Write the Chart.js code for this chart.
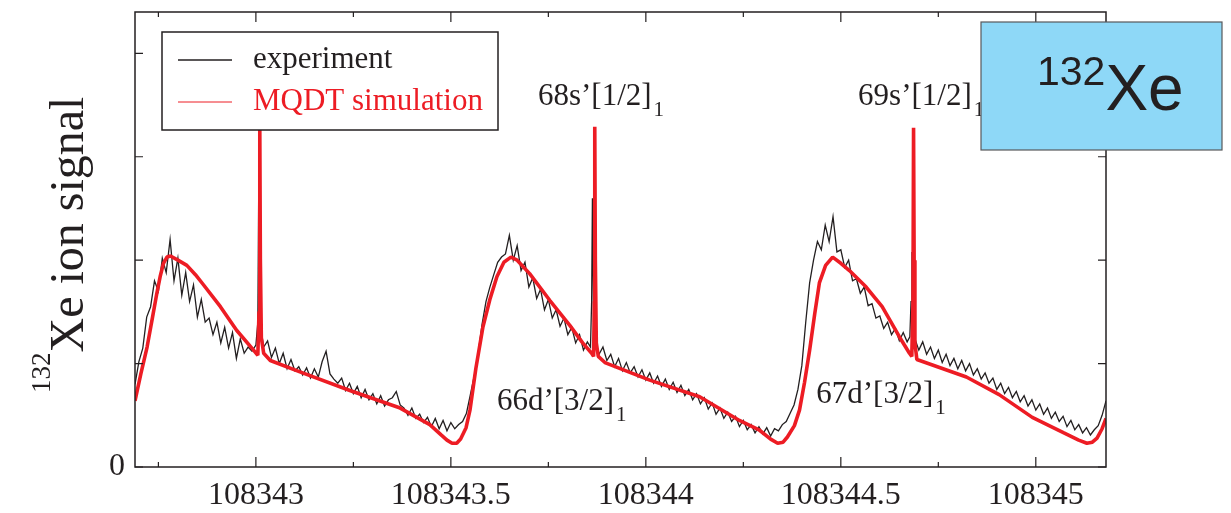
<!DOCTYPE html>
<html>
<head>
<meta charset="utf-8">
<script src="https://cdn.jsdelivr.net/npm/chart.js@4.4.1/dist/chart.umd.min.js"></script>
<style>
  html, body { margin: 0; padding: 0; background: #fff; }
  canvas { display: block; }
</style>
</head>
<body>
<canvas id="xeChart" width="1231" height="513"></canvas>
<script>
// ─── Data (energies in cm-1, signal in arbitrary units) ───────────────
const X_MIN = 108342.69;
const X_MAX = 108345.18;
const Y_MAX = 4.4;

// experiment (black, noisy)
const EXP_X = [
  108342.69, 108342.70, 108342.71, 108342.72, 108342.73, 108342.74, 108342.75, 108342.76, 108342.77, 108342.78,
  108342.79, 108342.80, 108342.81, 108342.82, 108342.83, 108342.84, 108342.85, 108342.86, 108342.87, 108342.88,
  108342.89, 108342.90, 108342.91, 108342.92, 108342.93, 108342.94, 108342.95, 108342.96, 108342.97, 108342.98,
  108342.99, 108343.000, 108343.005, 108343.008, 108343.012, 108343.015,
  108343.02, 108343.03, 108343.04, 108343.05, 108343.06, 108343.07, 108343.08, 108343.09, 108343.10, 108343.11,
  108343.12, 108343.13, 108343.14, 108343.15, 108343.16, 108343.17, 108343.18, 108343.19, 108343.20, 108343.21,
  108343.22, 108343.23, 108343.24, 108343.25, 108343.26, 108343.27, 108343.28, 108343.29, 108343.30, 108343.31,
  108343.32, 108343.33, 108343.34, 108343.35, 108343.36, 108343.37, 108343.38, 108343.39, 108343.40, 108343.41,
  108343.42, 108343.43, 108343.44, 108343.45, 108343.46, 108343.47, 108343.48, 108343.49, 108343.50, 108343.51,
  108343.52, 108343.53, 108343.54, 108343.55, 108343.56, 108343.57, 108343.58, 108343.59, 108343.60, 108343.61,
  108343.62, 108343.63, 108343.64, 108343.65, 108343.66, 108343.67, 108343.68, 108343.69, 108343.70, 108343.71,
  108343.72, 108343.73, 108343.74, 108343.75, 108343.76, 108343.77, 108343.78, 108343.79, 108343.80, 108343.81,
  108343.82, 108343.83, 108343.84, 108343.85, 108343.858, 108343.861, 108343.863, 108343.866, 108343.87,
  108343.88, 108343.89, 108343.90, 108343.91, 108343.92, 108343.93, 108343.94, 108343.95, 108343.96, 108343.97,
  108343.98, 108343.99, 108344.00, 108344.01, 108344.02, 108344.03, 108344.04, 108344.05, 108344.06, 108344.07,
  108344.08, 108344.09, 108344.10, 108344.11, 108344.12, 108344.13, 108344.14, 108344.15, 108344.16, 108344.17,
  108344.18, 108344.19, 108344.20, 108344.21, 108344.22, 108344.23, 108344.24, 108344.25, 108344.26, 108344.27,
  108344.28, 108344.29, 108344.30, 108344.31, 108344.32, 108344.33, 108344.34, 108344.35, 108344.36, 108344.37,
  108344.38, 108344.39, 108344.40, 108344.41, 108344.42, 108344.43, 108344.44, 108344.45, 108344.46, 108344.47,
  108344.48, 108344.49, 108344.50, 108344.51, 108344.52, 108344.53, 108344.54, 108344.55, 108344.56, 108344.57,
  108344.58, 108344.59, 108344.60, 108344.61, 108344.62, 108344.63, 108344.64, 108344.65, 108344.66, 108344.67,
  108344.677, 108344.680, 108344.6825, 108344.685, 108344.69,
  108344.70, 108344.71, 108344.72, 108344.73, 108344.74, 108344.75, 108344.76, 108344.77, 108344.78, 108344.79,
  108344.80, 108344.81, 108344.82, 108344.83, 108344.84, 108344.85, 108344.86, 108344.87, 108344.88, 108344.89,
  108344.90, 108344.91, 108344.92, 108344.93, 108344.94, 108344.95, 108344.96, 108344.97, 108344.98, 108344.99,
  108345.00, 108345.01, 108345.02, 108345.03, 108345.04, 108345.05, 108345.06, 108345.07, 108345.08, 108345.09,
  108345.10, 108345.11, 108345.12, 108345.13, 108345.14, 108345.15, 108345.16, 108345.17, 108345.18
];
const EXP_Y = [
  0.80, 1.02, 1.15, 1.45, 1.55, 1.80, 1.70, 2.02, 1.88, 2.20,
  1.80, 2.02, 1.66, 1.88, 1.60, 1.76, 1.45, 1.62, 1.40, 1.44,
  1.28, 1.40, 1.20, 1.35, 1.15, 1.30, 1.05, 1.24, 1.10, 1.16,
  1.12, 1.18, 1.40, 3.10, 1.45, 1.28,
  1.16, 1.22, 1.06, 1.15, 1.00, 1.10, 0.95, 1.04, 0.93, 0.97,
  0.89, 0.96, 0.86, 0.95, 0.87, 1.02, 1.12, 0.90, 0.85, 0.81,
  0.86, 0.74, 0.81, 0.71, 0.78, 0.67, 0.75, 0.65, 0.71, 0.61,
  0.69, 0.59, 0.65, 0.67, 0.73, 0.60, 0.57, 0.50, 0.57, 0.47,
  0.51, 0.43, 0.48, 0.39, 0.47, 0.37, 0.45, 0.35, 0.43, 0.37,
  0.41, 0.44, 0.52, 0.70, 0.88, 1.10, 1.38, 1.60, 1.74, 1.86,
  1.98, 2.03, 2.06, 2.24, 2.00, 2.14, 1.90, 1.98, 1.74, 1.83,
  1.63, 1.72, 1.52, 1.62, 1.44, 1.52, 1.36, 1.44, 1.28, 1.35,
  1.20, 1.28, 1.13, 1.21, 1.16, 1.60, 2.60, 1.40, 1.22,
  1.09, 1.16, 1.03, 1.09, 0.97, 1.05, 0.93, 1.01, 0.91, 0.97,
  0.87, 0.94, 0.84, 0.91, 0.81, 0.88, 0.78, 0.85, 0.75, 0.82,
  0.72, 0.79, 0.69, 0.75, 0.65, 0.71, 0.61, 0.67, 0.56, 0.62,
  0.51, 0.57, 0.47, 0.53, 0.44, 0.49, 0.39, 0.45, 0.36, 0.41,
  0.33, 0.39, 0.32, 0.38, 0.30, 0.37, 0.35, 0.41, 0.44, 0.52,
  0.60, 0.75, 0.98, 1.40, 1.78, 2.00, 2.18, 2.10, 2.34, 2.18,
  2.42, 2.08, 2.10, 1.93, 2.00, 1.80, 1.82, 1.68, 1.74, 1.56,
  1.58, 1.44, 1.46, 1.34, 1.40, 1.28, 1.34, 1.22, 1.30, 1.21,
  1.26, 1.60, 2.08, 1.40, 1.24,
  1.13, 1.21, 1.09, 1.16, 1.05, 1.13, 1.01, 1.09, 0.98, 1.05,
  0.95, 1.03, 0.93, 1.00, 0.89, 0.95, 0.85, 0.91, 0.81, 0.86,
  0.75, 0.81, 0.71, 0.77, 0.67, 0.73, 0.63, 0.69, 0.59, 0.65,
  0.55, 0.61, 0.51, 0.57, 0.47, 0.53, 0.44, 0.49, 0.39, 0.45,
  0.36, 0.41, 0.33, 0.38, 0.31, 0.36, 0.40, 0.50, 0.64
];

// MQDT simulation (red, smooth with narrow s-resonances)
const SIM_X = [
  108342.690, 108342.705, 108342.721, 108342.735, 108342.746, 108342.755, 108342.763, 108342.772, 108342.781,
  108342.800, 108342.823, 108342.845, 108342.866, 108342.909, 108342.951, 108342.994,
  108343.005, 108343.008, 108343.010, 108343.0115, 108343.014, 108343.020, 108343.037,
  108343.113, 108343.241, 108343.370, 108343.446, 108343.475, 108343.490, 108343.503, 108343.515, 108343.525,
  108343.539, 108343.549, 108343.564, 108343.582, 108343.600, 108343.618, 108343.636, 108343.654, 108343.670,
  108343.702, 108343.754, 108343.805, 108343.838, 108343.861,
  108343.866, 108343.868, 108343.869, 108343.8705, 108343.873, 108343.878, 108343.895,
  108344.010, 108344.138, 108344.240, 108344.290, 108344.320, 108344.338, 108344.352, 108344.363, 108344.381,
  108344.394, 108344.407, 108344.420, 108344.433, 108344.445, 108344.461, 108344.479, 108344.500, 108344.522,
  108344.565, 108344.606, 108344.650, 108344.676,
  108344.682, 108344.685, 108344.6865, 108344.688, 108344.690, 108344.695,
  108344.822, 108344.906, 108344.991, 108345.072, 108345.110, 108345.131, 108345.145, 108345.157, 108345.170,
  108345.180
];
const SIM_Y = [
  0.64, 0.90, 1.16, 1.45, 1.68, 1.85, 1.97, 2.03, 2.04,
  2.00, 1.95, 1.86, 1.76, 1.55, 1.32, 1.13,
  1.08, 1.50, 3.29, 2.00, 1.25, 1.10, 1.03,
  0.92, 0.74, 0.57, 0.41, 0.31, 0.26, 0.23, 0.23, 0.27,
  0.38, 0.55, 0.95, 1.35, 1.62, 1.84, 1.98, 2.03, 2.00,
  1.87, 1.61, 1.37, 1.20, 1.10,
  1.07, 1.60, 3.29, 2.00, 1.20, 1.07, 1.01,
  0.84, 0.68, 0.45, 0.36, 0.27, 0.23, 0.24, 0.29, 0.40,
  0.55, 0.82, 1.13, 1.48, 1.78, 1.95, 2.03, 1.97, 1.90,
  1.74, 1.55, 1.26, 1.10,
  1.07, 1.60, 3.28, 2.00, 1.20, 1.04,
  0.87, 0.70, 0.48, 0.33, 0.26, 0.23, 0.24, 0.28, 0.37,
  0.47
];

const SERIES_NAMES = ['experiment', 'MQDT simulation'];

// state labels: text, subscript, anchor energy, anchor signal, alignment
const STATE_TEXT  = ['68s\u2019[1/2]', '69s\u2019[1/2]', '66d\u2019[3/2]', '67d\u2019[3/2]'];
const STATE_SUB   = ['1', '1', '1', '1'];
const STATE_X     = [108343.869, 108344.690, 108343.618, 108344.437];
const STATE_Y     = [3.50, 3.50, 0.55, 0.62];
const STATE_ALIGN = ['center', 'center', 'left', 'left'];

// ─── Styling ──────────────────────────────────────────────────────────
const INK   = '#231f20';
const RED   = '#ed1c24';
const SERIF = '"Liberation Serif", "Times New Roman", serif';
const SANS  = '"Liberation Sans", Arial, sans-serif';

const toPoints = (xs, ys) => xs.map((x, i) => ({ x, y: ys[i] }));

// frame, inward ticks, labels, legend, isotope box
const decorations = {
  id: 'decorations',
  afterDraw(chart) {
    const { ctx, chartArea: a, scales: { x, y } } = chart;
    ctx.save();

    // frame
    ctx.strokeStyle = INK;
    ctx.lineWidth = 1.5;
    ctx.strokeRect(a.left, a.top, a.right - a.left, a.bottom - a.top);

    // ticks on all four sides, pointing inward
    ctx.lineWidth = 1.2;
    ctx.beginPath();
    x.ticks.forEach(t => {
      const px = x.getPixelForValue(t.value);
      const len = t.label ? 10 : 5;
      ctx.moveTo(px, a.bottom); ctx.lineTo(px, a.bottom - len);
      ctx.moveTo(px, a.top);    ctx.lineTo(px, a.top + len);
    });
    y.ticks.forEach(t => {
      const py = y.getPixelForValue(t.value);
      ctx.moveTo(a.left, py);  ctx.lineTo(a.left + 8, py);
      ctx.moveTo(a.right, py); ctx.lineTo(a.right - 8, py);
    });
    ctx.stroke();

    // state labels with subscripts
    ctx.fillStyle = INK;
    ctx.textBaseline = 'alphabetic';
    ctx.textAlign = 'left';
    STATE_TEXT.forEach((txt, i) => {
      const px = x.getPixelForValue(STATE_X[i]);
      const py = y.getPixelForValue(STATE_Y[i]);
      ctx.font = `31px ${SERIF}`;
      const w = ctx.measureText(txt).width;
      const x0 = STATE_ALIGN[i] === 'center' ? px - w / 2 : px;
      ctx.fillText(txt, x0, py);
      ctx.font = `21px ${SERIF}`;
      ctx.fillText(STATE_SUB[i], x0 + w + 2, py + 11);
    });

    // legend box
    const lx = a.left + 27, ly = a.top + 20;
    ctx.fillStyle = '#fff';
    ctx.fillRect(lx, ly, 336, 98);
    ctx.strokeStyle = INK;
    ctx.lineWidth = 1.5;
    ctx.strokeRect(lx, ly, 336, 98);
    const sets = chart.data.datasets;
    const expSet = sets.find(d => d.label === SERIES_NAMES[0]);
    const simSet = sets.find(d => d.label === SERIES_NAMES[1]);
    [[expSet, 28, 36, 1.5], [simSet, 70, 78, 1]].forEach(([ds, ry, ty, lw]) => {
      ctx.strokeStyle = ds.borderColor;
      ctx.lineWidth = lw;
      ctx.beginPath();
      ctx.moveTo(lx + 16, ly + ry); ctx.lineTo(lx + 70, ly + ry);
      ctx.stroke();
      ctx.fillStyle = ds.borderColor;
      ctx.font = `31px ${SERIF}`;
      ctx.fillText(ds.label, lx + 91, ly + ty);
    });

    // y axis title (rotated, with isotope superscript)
    ctx.save();
    ctx.translate(a.left - 52, a.bottom - 74);
    ctx.rotate(-Math.PI / 2);
    ctx.fillStyle = INK;
    ctx.font = `27px ${SERIF}`;
    ctx.fillText('132', 0, -33);
    const sw = ctx.measureText('132').width;
    ctx.font = `48px ${SERIF}`;
    ctx.fillText('Xe ion signal', sw, 0);
    ctx.restore();

    // isotope box
    const bx = a.right - 125, by = a.top + 10, bw = 241, bh = 128;
    ctx.fillStyle = '#8ed8f7';
    ctx.fillRect(bx, by, bw, bh);
    ctx.strokeStyle = '#58595b';
    ctx.lineWidth = 1.2;
    ctx.strokeRect(bx, by, bw, bh);
    ctx.fillStyle = INK;
    ctx.font = `41px ${SANS}`;
    ctx.fillText('132', bx + 56, by + 63);
    const iw = ctx.measureText('132').width;
    ctx.font = `64px ${SANS}`;
    ctx.fillText('Xe', bx + 56 + iw, by + 88);

    ctx.restore();
  }
};

new Chart(document.getElementById('xeChart'), {
  type: 'line',
  data: {
    datasets: [
      {
        label: SERIES_NAMES[1],
        data: toPoints(SIM_X, SIM_Y),
        borderColor: RED,
        borderWidth: 3.6,
        borderJoinStyle: 'bevel',
        pointRadius: 0,
        tension: 0,
      },
      {
        label: SERIES_NAMES[0],
        data: toPoints(EXP_X, EXP_Y),
        borderColor: INK,
        borderWidth: 1.3,
        pointRadius: 0,
        tension: 0,
      },
    ],
  },
  options: {
    responsive: false,
    animation: false,
    devicePixelRatio: 1,
    layout: { padding: { top: 12, right: 125, left: 0, bottom: 0 } },
    scales: {
      x: {
        type: 'linear',
        min: X_MIN, max: X_MAX,
        grid: { display: false, drawTicks: false },
        border: { display: false },
        ticks: {
          stepSize: 0.25,
          includeBounds: false,
          autoSkip: false,
          maxRotation: 0,
          padding: 9,
          color: INK,
          font: { family: SERIF, size: 32 },
          callback: v => (Math.abs(v * 2 - Math.round(v * 2)) < 1e-6 ? String(v) : ''),
        },
        afterFit: s => { s.height = 46; s.paddingLeft = 0; s.paddingRight = 0; },
      },
      y: {
        min: 0, max: Y_MAX,
        grid: { display: false, drawTicks: false },
        border: { display: false },
        ticks: {
          stepSize: 1,
          includeBounds: false,
          padding: 10,
          color: INK,
          font: { family: SERIF, size: 32 },
          callback: v => (v === 0 ? '0' : ''),
        },
        afterFit: s => { s.width = 135; s.paddingTop = 0; s.paddingBottom = 0; },
      },
    },
    plugins: {
      legend: { display: false },
      tooltip: { enabled: false },
    },
  },
  plugins: [decorations],
});
</script>
</body>
</html>
